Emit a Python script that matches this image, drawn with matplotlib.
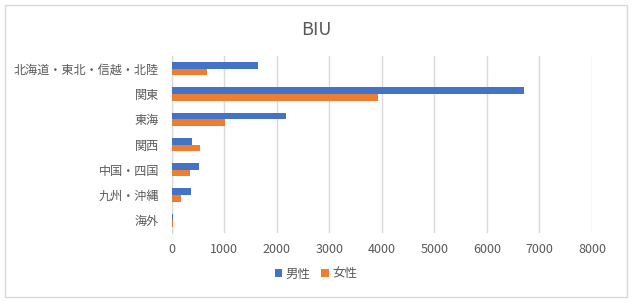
import matplotlib
matplotlib.use("Agg")
import matplotlib.pyplot as plt
import numpy as np
from matplotlib.patches import Rectangle

plt.rcParams['font.family'] = ['Noto Sans CJK JP', 'DejaVu Sans']

categories = ["北海道・東北・信越・北陸", "関東", "東海", "関西", "中国・四国", "九州・沖縄", "海外"]
male = [1645, 6710, 2175, 385, 520, 370, 25]
female = [670, 3930, 1015, 540, 350, 180, 25]
series_names = ["男性", "女性"]
title = "BIU"
xticks = [0, 1000, 2000, 3000, 4000, 5000, 6000, 7000, 8000]

blue = "#4472C4"
orange = "#ED7D31"
txt = "#595959"
grid = "#D9D9D9"

fig = plt.figure(figsize=(6.32, 3.02), dpi=100)
W, H = 632, 302
ax = fig.add_axes([171.7 / W, 1 - 233 / H, (592 - 171.7) / W, (233 - 56) / H])

y = np.arange(len(categories))
h = 0.265
ax.barh(y - h / 2, male, height=h, color=blue, label=series_names[0], zorder=3)
ax.barh(y + h / 2, female, height=h, color=orange, label=series_names[1], zorder=3)
ax.set_ylim(len(categories) - 0.5, -0.5)
ax.set_xlim(0, 8000)
ax.set_xticks(xticks)
ax.set_xticklabels([str(v) for v in xticks])
ax.set_yticks(y)
ax.set_yticklabels(categories)
ax.tick_params(axis='both', length=0, colors=txt, labelsize=9)
ax.tick_params(axis='y', labelsize=8.7)
ax.tick_params(axis='x', pad=7)
ax.tick_params(axis='y', pad=9)
ax.xaxis.grid(True, color=grid, linewidth=1, zorder=0)
for s in ["top", "right", "bottom"]:
    ax.spines[s].set_visible(False)
ax.spines["left"].set_color(grid)
ax.spines["left"].set_zorder(1)

fig.text(0.5, 1 - 30 / H, title, ha='center', va='center', fontsize=13, color=txt)

leg = fig.legend(loc='center', bbox_to_anchor=(316 / W, 1 - 274 / H), ncol=2, frameon=False,
                 fontsize=9, handlelength=0.6, handleheight=0.6, handletextpad=0.3,
                 columnspacing=0.8, labelcolor=txt)

fig.patches.append(Rectangle((5 / W, 5 / H), 622 / W, 292 / H, transform=fig.transFigure,
                             fill=False, edgecolor=grid, linewidth=1))

fig.savefig("out.png", dpi=100, facecolor="white")
